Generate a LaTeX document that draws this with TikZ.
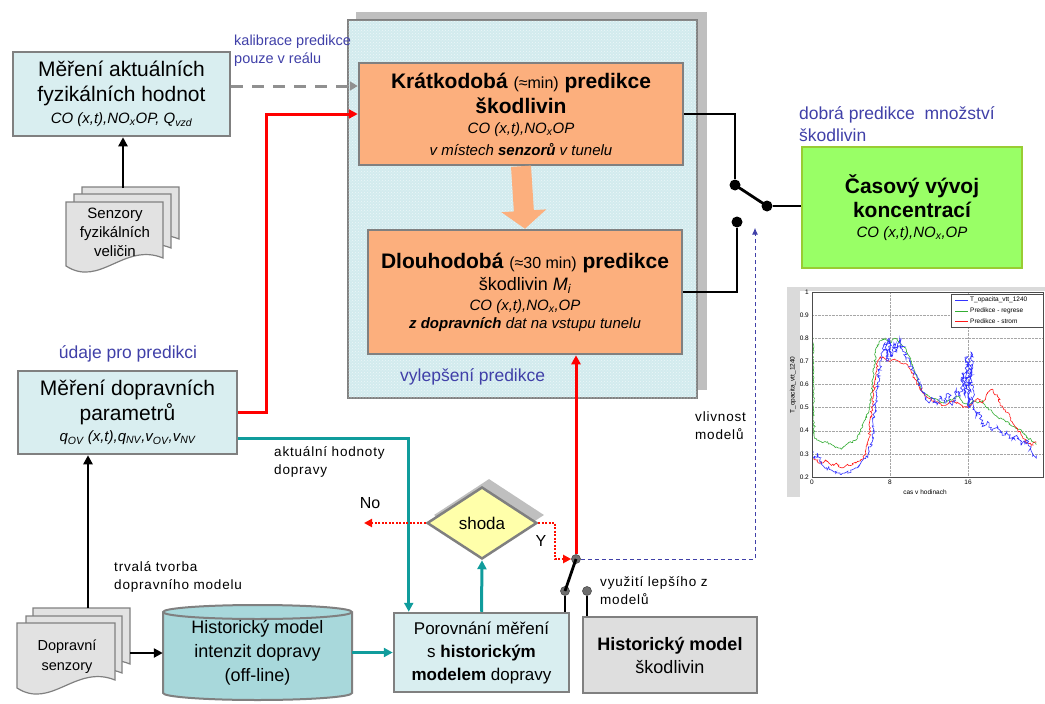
\documentclass[tikz,border=0pt]{standalone}
\usepackage{fontspec}
\setmainfont{Liberation Sans}
\setsansfont{Liberation Sans}
\usetikzlibrary{arrows.meta,shapes.geometric,calc,decorations.pathmorphing,patterns}
\definecolor{bcyan}{HTML}{D9EEF0}
\definecolor{bgray}{HTML}{808080}
\definecolor{orng}{HTML}{FCAF7D}
\definecolor{grnfill}{HTML}{99FF66}
\definecolor{grnline}{HTML}{99CC33}
\definecolor{cylfill}{HTML}{A8D8DB}
\definecolor{tealc}{HTML}{109C9C}
\definecolor{lgray}{HTML}{DEDEDE}
\definecolor{ylw}{HTML}{FFFFAA}
\definecolor{bluetxt}{HTML}{4040A8}
\definecolor{shadowg}{HTML}{BFBFBF}
\definecolor{contfill}{HTML}{D2EBEE}
\definecolor{docgray}{HTML}{E2E2E2}
\definecolor{dashgray}{HTML}{909090}
\definecolor{chartgray}{HTML}{DADADA}
\definecolor{dotgray}{HTML}{6E6E6E}
\newcommand\ftitle{\fontsize{21}{25}\selectfont}
\newcommand\fsmallx{\fontsize{16}{25}\selectfont}
\newcommand\fital{\fontsize{15}{18}\selectfont\itshape}
\newcommand\fmidx{\fontsize{18}{22}\selectfont}
\newcommand\flab{\fontsize{13.5}{18}\selectfont\addfontfeatures{LetterSpace=6}}
\newcommand\fblue{\fontsize{17.5}{22}\selectfont}
\newcommand\fchart{\fontsize{6.5}{8}\selectfont}
\newcommand\docpath[4]{%
  \filldraw[docst] (#1,#2) -- ({#1+#3},#2) -- ({#1+#3},{#2+#4})
    .. controls ({#1+0.6*#3},{#2+#4-16}) and ({#1+0.35*#3},{#2+#4+30}) .. (#1,{#2+#4+8}) -- cycle;}
\begin{document}
\begin{tikzpicture}[x=1pt,y=-1pt,
  bx/.style={draw=bgray,line width=2.5pt,fill=bcyan,inner sep=0pt,align=center},
  obx/.style={bx,fill=orng},
  gbx/.style={draw=grnline,line width=2.5pt,fill=grnfill,inner sep=0pt,align=center},
  grbx/.style={bx,fill=lgray},
  docst/.style={draw=bgray,line width=1.2pt,fill=docgray},
  blkdot/.style={circle,fill=black,inner sep=0pt,minimum size=11pt},
  gdot/.style={circle,fill=dotgray,draw=black!70,line width=0.6pt,inner sep=0pt,minimum size=9pt},
  blkarr/.style={line width=2.5pt,-{Triangle[length=9pt,width=9pt]}},
  redarr/.style={line width=3pt,red,-{Triangle[length=9pt,width=9pt]}},
  tealarr/.style={line width=3pt,tealc,-{Triangle[length=9pt,width=9pt]}},
  graydash/.style={line width=3pt,dashgray,dash pattern=on 12pt off 9pt,-{Triangle[length=8pt,width=9pt]}},
  reddots/.style={line width=2pt,red!90!orange,dash pattern=on 2pt off 1.5pt,-{Triangle[length=8pt,width=8pt]}},
  bluedash/.style={line width=1pt,bluetxt,dash pattern=on 4pt off 3pt,-{Latex[length=7pt,width=6pt]}},
  thinl/.style={line width=1.2pt,black},
  lever/.style={line width=2.8pt,black},
  lbl/.style={inner sep=0pt,align=left,font=\flab},
  bluelbl/.style={inner sep=0pt,align=left,font=\fblue,text=bluetxt}]
\useasboundingbox (0,0) rectangle (1045,704);

% ---- container
\fill[shadowg] (356,12) rectangle (707,390);
\node[draw=bgray,line width=2.5pt,fill=contfill,minimum width=349pt,minimum height=378pt,inner sep=0pt,
  postaction={pattern=crosshatch dots,pattern color=white!60!contfill}] (cont) at (522.5,209) {};
\node[bluelbl,anchor=west] (vyl) at (400,377) {vylepšení predikce};

% ---- boxes
\node[bx,minimum width=217pt,minimum height=84pt,font=\ftitle] (mf) at (121.5,94)
  {Měření aktuálních\\ fyzikálních hodnot\\[-3pt]
   \fital CO (x,t),NO\textsubscript{x}OP, Q\textsubscript{vzd}};
\node[obx,minimum width=324pt,minimum height=102pt,font=\ftitle] (kp) at (521,114)
  {\bfseries Krátkodobá {\mdseries\fsmallx (≈min)} predikce\\
   \bfseries škodlivin\\[-5pt]
   \fital CO (x,t),NO\textsubscript{x}OP\\[-3pt]
   \fital v místech \textbf{senzorů} v tunelu};
\node[obx,minimum width=314pt,minimum height=124pt,font=\ftitle] (dp) at (525,292)
  {\bfseries Dlouhodobá {\mdseries\fsmallx (≈30 min)} predikce\\[-3pt]
   \fmidx škodlivin \textit{M\textsubscript{i}}\\[-5pt]
   \fital CO (x,t),NO\textsubscript{x},OP\\[-7pt]
   \fital \textbf{z dopravních} dat na vstupu tunelu};
\node[gbx,minimum width=220pt,minimum height=121pt,font=\ftitle] (cv) at (912,207.5)
  {\bfseries Časový vývoj\\[-1pt] \bfseries koncentrací\\[-5pt]
   \fital CO (x,t),NO\textsubscript{x},OP};
\node[bx,minimum width=219pt,minimum height=83pt,font=\ftitle] (md) at (127.5,412.5)
  {Měření dopravních\\ parametrů\\[-4pt]
   \fital q\textsubscript{OV} (x,t),q\textsubscript{NV},v\textsubscript{OV},v\textsubscript{NV}};
\node[bx,minimum width=175pt,minimum height=79pt,font=\fontsize{17}{23}\selectfont] (po) at (481.5,652.5)
  {Porovnání měření\\ s \textbf{historickým}\\ \textbf{modelem} dopravy};
\node[grbx,minimum width=174pt,minimum height=76pt,font=\fontsize{18}{23}\selectfont] (hs) at (670,655)
  {\textbf{Historický model}\\ škodlivin};

% cylinder
\fill[cylfill,draw=bgray,line width=2pt] (163,612) -- (163,693)
   arc[start angle=180,end angle=0,x radius=94.5,y radius=7] -- (352,612)
   arc[start angle=0,end angle=-180,x radius=94.5,y radius=7] -- cycle;
\draw[bgray,line width=2pt] (163,612) arc[start angle=180,end angle=0,x radius=94.5,y radius=7];
\node[inner sep=0pt,minimum width=189pt,minimum height=95pt,align=center,font=\fontsize{18}{24}\selectfont] (cyl) at (257.5,652.5)
  {Historický model\\ intenzit dopravy\\ (off-line)};

% documents
\docpath{82}{187}{97}{52}
\docpath{74}{194}{97}{54}
\docpath{66}{202}{97}{56}
\node[align=center,inner sep=0pt,font=\fontsize{15}{19}\selectfont] (sf) at (115,232) {Senzory\\ fyzikálních\\ veličin};
\docpath{33}{608}{97}{56}
\docpath{26}{616}{96}{57}
\docpath{17}{623}{98}{57}
\node[align=center,inner sep=0pt,font=\fontsize{14.5}{20}\selectfont] (ds) at (67,657) {Dopravní\\ senzory};

% diamond
\node[diamond,fill=shadowg,minimum width=110pt,minimum height=72pt,inner sep=0pt] (shs) at (489,515) {};
\node[diamond,draw=bgray,line width=2.5pt,fill=ylw,minimum width=110pt,minimum height=72pt,inner sep=0pt,font=\fontsize{17}{20}\selectfont] (sh) at (482,523) {shoda};
\node[font=\fontsize{16}{20}\selectfont,inner sep=0pt] (no) at (370,503) {No};
\node[font=\fontsize{16}{20}\selectfont,inner sep=0pt] (yy) at (541,541) {Y};

% switches
\node[blkdot] (sA) at (735,185) {};
\node[blkdot] (sB) at (767,206) {};
\node[blkdot] (sC) at (737,222) {};
\node[gdot] (pv) at (576,559) {};
\node[gdot] (l1) at (565,591) {};
\node[gdot] (l2) at (587,591) {};

% labels
\node[bluelbl,anchor=west,font=\fontsize{14.5}{18}\selectfont] (kal) at (234,51) {kalibrace predikce\\ pouze v reálu};
\node[bluelbl,anchor=west] (dob) at (799,124) {dobrá predikce \ množství\\ škodlivin};
\node[bluelbl] (udp) at (128,354) {údaje pro predikci};
\node[lbl,anchor=west] (akt) at (274,462) {aktuální hodnoty\\ dopravy};
\node[lbl,anchor=west] (trv) at (114,577) {trvalá tvorba\\ dopravního modelu};
\node[lbl,anchor=west] (vli) at (695,426) {vlivnost\\ modelů};
\node[lbl,anchor=west] (vyu) at (600,591) {využití lepšího z\\ modelů};

% ---- connectors
\coordinate (ps) at (123,188);
\draw[blkarr] (ps) -- (ps |- mf.south);
\coordinate (ts) at (88,608);
\draw[blkarr] (ts) -- (ts |- md.south);
\coordinate (te) at (130,653);
\draw[blkarr] (te) -- (te -| cyl.west);
\coordinate (dk) at (233,86);
\draw[graydash] (mf.east |- dk) -- (dk -| kp.west);
\draw[redarr] (md.east) -- ++(28,0) |- (kp.west);
\draw[tealarr] ([yshift=-25.5pt]md.east) -| ($(po.north west)+(16,0)$);
\draw[tealarr] (po.north) -- (sh.south);
\draw[tealarr] (cyl.east) -- (po.west);
\draw[line width=20pt,orng,-{Triangle[length=18pt,width=44pt]}] (kp.south) -- (dp.north);
\draw[thinl] (kp.east) -| (sA);
\draw[thinl] (sC) |- (dp.east);
\draw[lever] (sA.center) -- (sB.center);
\draw[thinl] (sB) -- (cv.west |- sB);
\draw[redarr] (pv) -- (pv |- dp.south);
\coordinate (bd) at (755,559);
\draw[bluedash] (pv) -- (bd) -- (bd |- sC.south);
\draw[lever] (pv.center) -- (l1.center);
\draw[thinl] (l1) -- (l1 |- po.north);
\draw[thinl] (l2) -- (l2 |- hs.north);
\draw[reddots] (sh.east) -- ++(17,0) |- (pv);
\coordinate (noend) at (364,523);
\draw[reddots] (sh.west) -- (noend);

% ---- chart
\fill[chartgray] (787,287) rectangle (1045,497);
\fill[white] (800,291) rectangle (1045,497);
\foreach \v in {0.3,0.4,...,0.95}{\draw[gray!70,densely dotted,line width=0.4pt] (812,{523.25-231.25*\v}) -- (1043,{523.25-231.25*\v});}
\foreach \xx in {890,968}{\draw[gray!70,densely dotted,line width=0.4pt] (\xx,292) -- (\xx,477);}
\foreach \v/\t in {0.2/0.2,0.3/0.3,0.4/0.4,0.5/0.5,0.6/0.6,0.7/0.7,0.8/0.8,0.9/0.9,1/1}{\node[font=\fchart,anchor=east,inner sep=1pt] at (810,{523.25-231.25*\v}) {\t};}
\foreach \xx/\t in {812/0,890/8,968/16}{\node[font=\fchart,anchor=north,inner sep=1pt] at (\xx,479) {\t};}
\node[font=\fchart] (xl) at (925,492) {cas v hodinach};
\node[font=\fchart,rotate=90] (yl) at (793,385) {T\_opacita\_vtt\_1240};
\begin{scope}[shift={(812,523.25)},x=9.75pt,y=231.25pt]
\clip (0,0.2) rectangle (23.7,1);
\pgfmathsetseed{11}
\draw[green!60!black!80,line width=0.6pt,decorate,decoration={random steps,segment length=1.5pt,amplitude=1pt}] plot coordinates {(0,0.82) (0.1,0.80) (0.2,0.38) (0.5,0.36) (1,0.35) (1.5,0.35) (2,0.34) (2.5,0.33) (3,0.32) (3.5,0.34) (4,0.35) (4.5,0.36) (5,0.40) (5.5,0.45) (6,0.52) (6.3,0.65) (6.6,0.76) (7,0.79) (7.5,0.80) (8,0.78) (8.5,0.80) (9,0.78) (9.5,0.76) (10,0.72) (10.5,0.66) (11,0.60) (11.5,0.56) (12,0.55) (12.5,0.54) (13,0.53) (13.5,0.52) (14,0.53) (14.5,0.54) (15,0.55) (15.5,0.52) (16,0.51) (16.5,0.53) (17,0.52) (17.5,0.53) (18,0.50) (18.5,0.48) (19,0.46) (19.5,0.45) (20,0.44) (20.5,0.42) (21,0.41) (21.5,0.40) (22,0.37) (22.5,0.36) (23,0.34)};
\draw[red!90,line width=0.6pt,decorate,decoration={random steps,segment length=1.5pt,amplitude=1.3pt}] plot coordinates {(0,0.28) (0.5,0.27) (1,0.26) (1.5,0.27) (2,0.25) (2.5,0.26) (3,0.24) (3.5,0.25) (4,0.25) (4.5,0.26) (5,0.27) (5.5,0.30) (5.8,0.36) (6.1,0.48) (6.4,0.60) (6.7,0.70) (7,0.72) (7.5,0.71) (8,0.70) (8.5,0.71) (9,0.70) (9.5,0.69) (10,0.67) (10.5,0.63) (11,0.59) (11.5,0.56) (12,0.54) (12.5,0.53) (13,0.52) (13.5,0.51) (14,0.52) (14.5,0.53) (15,0.52) (15.5,0.50) (16,0.50) (16.5,0.52) (17,0.54) (17.5,0.52) (18,0.56) (18.5,0.58) (19,0.55) (19.3,0.52) (19.6,0.50) (20,0.48) (20.5,0.44) (21,0.41) (21.5,0.38) (22,0.35) (22.5,0.34) (23,0.35)};
\draw[blue!80,line width=0.6pt,decorate,decoration={random steps,segment length=1.5pt,amplitude=2pt}] plot coordinates {(0,0.30) (0.3,0.28) (0.6,0.30) (1,0.26) (1.5,0.24) (2,0.23) (2.5,0.22) (3,0.21) (3.5,0.22) (4,0.22) (4.5,0.24) (5,0.26) (5.5,0.28) (6,0.33) (6.3,0.42) (6.6,0.55) (6.9,0.65) (7.2,0.72) (7.5,0.78) (7.7,0.70) (7.9,0.80) (8.1,0.72) (8.4,0.78) (8.7,0.74) (9,0.80) (9.3,0.75) (9.6,0.72) (10,0.70) (10.4,0.66) (10.8,0.62) (11.2,0.58) (11.6,0.55) (12,0.52) (12.4,0.54) (12.8,0.51) (13.2,0.55) (13.6,0.52) (14,0.56) (14.4,0.51) (14.8,0.58) (15.2,0.55) (15.5,0.65) (15.7,0.55) (15.9,0.72) (16.1,0.50) (16.3,0.74) (16.5,0.52) (16.8,0.46) (17.2,0.48) (17.6,0.42) (18,0.44) (18.5,0.40) (19,0.42) (19.5,0.38) (20,0.40) (20.5,0.36) (21,0.38) (21.5,0.34) (22,0.36) (22.5,0.31) (23,0.28)};
\end{scope}
\draw[gray!60!black,line width=0.5pt] (812,292) rectangle (1043,477);
\node[draw=gray!60!black,fill=white,line width=0.4pt,minimum width=92pt,minimum height=33pt,inner sep=0pt] (leg) at (997,310.5) {};
\draw[blue!80,line width=0.6pt] (955,300) -- (968,300);
\draw[green!60!black!80,line width=0.6pt] (955,311) -- (968,311);
\draw[red!90,line width=0.6pt] (955,321) -- (968,321);
\node[font=\fchart,anchor=west,inner sep=0pt] at (970,300) {T\_opacita\_vtt\_1240};
\node[font=\fchart,anchor=west,inner sep=0pt] at (970,311) {Predikce - regrese};
\node[font=\fchart,anchor=west,inner sep=0pt] at (970,321) {Predikce - strom};
\end{tikzpicture}
\end{document}
